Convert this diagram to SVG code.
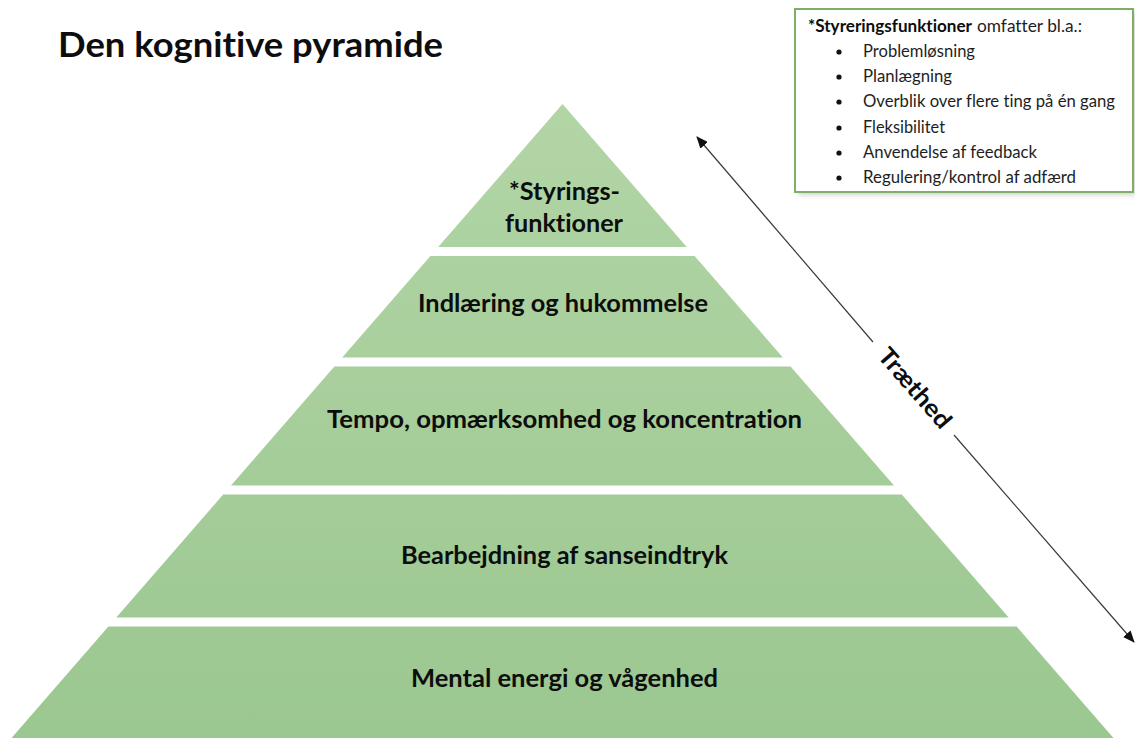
<svg xmlns="http://www.w3.org/2000/svg" width="1135" height="738" viewBox="0 0 1135 738">
  <style>
    text { font-variant-ligatures: none; font-feature-settings: "liga" 0, "clig" 0; }
    .band { fill: url(#greenFill); }
    .lbl { font-family: Lato, "Open Sans", "Liberation Sans", sans-serif; font-weight: bold; font-size: 24px; fill: #0d0d0d; text-anchor: middle; }
    .title { font-family: Lato, "Open Sans", "Liberation Sans", sans-serif; font-weight: bold; font-size: 35px; fill: #0d0d0d; }
    .note { font-family: Lato, "Open Sans", "Liberation Sans", sans-serif; font-size: 16.5px; fill: #1e1e1e; }
    .note-b { font-weight: bold; fill: #0d0d0d; }
    .conn { stroke: #3a3a3a; stroke-width: 1.2; fill: none; marker-end: url(#arrowHead); }
  </style>
  <defs>
    <linearGradient id="greenFill" gradientUnits="userSpaceOnUse" x1="0" y1="104" x2="0" y2="738">
      <stop offset="0" stop-color="#b2d5a6"/>
      <stop offset="1" stop-color="#9bc790"/>
    </linearGradient>
    <marker id="arrowHead" markerUnits="userSpaceOnUse" markerWidth="12" markerHeight="10" refX="11" refY="5" orient="auto">
      <path d="M0,0 L12,5 L0,10 Z" fill="#111"/>
    </marker>
    <filter id="softShadow" x="-5%" y="-5%" width="115%" height="120%">
      <feGaussianBlur stdDeviation="2.5"/>
    </filter>
  </defs>

  <rect width="1135" height="738" fill="#ffffff"/>

  <!-- heading -->
  <text class="title" x="58" y="57" textLength="385" lengthAdjust="spacingAndGlyphs">Den kognitive pyramide</text>

  <!-- pyramid levels, top to bottom -->
  <g id="level-styring">
    <polygon class="band" points="562.5,104 686.8,247 438.2,247"/>
    <text class="lbl" x="564.5" y="200" textLength="111" lengthAdjust="spacingAndGlyphs">*Styrings-</text>
    <text class="lbl" x="564" y="232" textLength="118" lengthAdjust="spacingAndGlyphs">funktioner</text>
  </g>
  <g id="level-indlaering">
    <polygon class="band" points="430.4,256 694.6,256 782.8,357.5 342.2,357.5"/>
    <text class="lbl" x="563" y="312" textLength="290" lengthAdjust="spacingAndGlyphs">Indlæring og hukommelse</text>
  </g>
  <g id="level-tempo">
    <polygon class="band" points="334.4,366.5 790.6,366.5 894,485.5 231,485.5"/>
    <text class="lbl" x="564.5" y="428" textLength="475" lengthAdjust="spacingAndGlyphs">Tempo, opmærksomhed og koncentration</text>
  </g>
  <g id="level-sanseindtryk">
    <polygon class="band" points="223.2,494.5 901.8,494.5 1008.7,617.5 116.3,617.5"/>
    <text class="lbl" x="564.5" y="564" textLength="327" lengthAdjust="spacingAndGlyphs">Bearbejdning af sanseindtryk</text>
  </g>
  <g id="level-energi">
    <polygon class="band" points="108.4,626.5 1016.6,626.5 1132.6,760 -7.6,760"/>
    <text class="lbl" x="564.5" y="687" textLength="307" lengthAdjust="spacingAndGlyphs">Mental energi og vågenhed</text>
  </g>

  <!-- note box on executive functions -->
  <g id="note-box">
    <rect x="798" y="12" width="338" height="183" fill="#9a9a9a" opacity="0.45" filter="url(#softShadow)"/>
    <rect x="795" y="9" width="338" height="183" fill="#ffffff" stroke="#7fae66" stroke-width="2"/>
    <text class="note note-b" x="808" y="32" textLength="164" lengthAdjust="spacingAndGlyphs">*Styreringsfunktioner</text>
    <text class="note" x="977" y="32" textLength="105" lengthAdjust="spacingAndGlyphs">omfatter bl.a.:</text>
    <g fill="#111">
      <circle cx="839" cy="52" r="2.6"/>
      <circle cx="839" cy="77" r="2.6"/>
      <circle cx="839" cy="102" r="2.6"/>
      <circle cx="839" cy="128" r="2.6"/>
      <circle cx="839" cy="153" r="2.6"/>
      <circle cx="839" cy="178" r="2.6"/>
    </g>
    <text class="note" x="863" y="57" textLength="112" lengthAdjust="spacingAndGlyphs">Problemløsning</text>
    <text class="note" x="863" y="82" textLength="89" lengthAdjust="spacingAndGlyphs">Planlægning</text>
    <text class="note" x="863" y="107" textLength="252" lengthAdjust="spacingAndGlyphs">Overblik over flere ting på én gang</text>
    <text class="note" x="863" y="133" textLength="82" lengthAdjust="spacingAndGlyphs">Fleksibilitet</text>
    <text class="note" x="863" y="158" textLength="174" lengthAdjust="spacingAndGlyphs">Anvendelse af feedback</text>
    <text class="note" x="863" y="183" textLength="213" lengthAdjust="spacingAndGlyphs">Regulering/kontrol af adfærd</text>
  </g>

  <!-- fatigue axis: double-headed arrow interrupted by its label -->
  <g id="connectors">
    <line class="conn" x1="873" y1="342" x2="697" y2="137"/>
    <line class="conn" x1="954" y1="435" x2="1134" y2="642"/>
    <text class="lbl" transform="translate(914,389) rotate(49)" y="7" x="0" textLength="98" lengthAdjust="spacingAndGlyphs">Træthed</text>
  </g>
</svg>
